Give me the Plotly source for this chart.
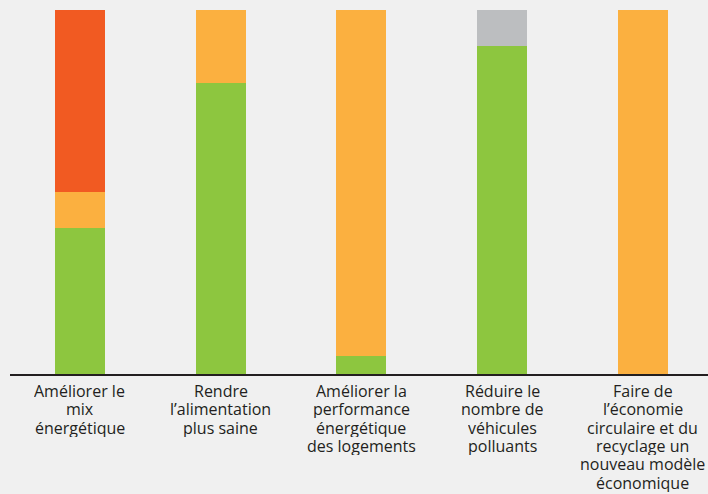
import plotly.graph_objects as go

# Categories (action areas) and their stacked shares, in percent
categories = [
    "Améliorer le<br>mix<br>énergétique",
    "Rendre<br>l’alimentation<br>plus saine",
    "Améliorer la<br>performance<br>énergétique<br>des logements",
    "Réduire le<br>nombre de<br>véhicules<br>polluants",
    "Faire de<br>l’économie<br>circulaire et du<br>recyclage un<br>nouveau modèle<br>économique",
]
green_values = [40, 80, 5, 90, 0]
orange_values = [10, 20, 95, 0, 100]
red_values = [50, 0, 0, 0, 0]
gray_values = [0, 0, 0, 10, 0]

series = [
    ("green", green_values, "#8dc63f"),
    ("orange", orange_values, "#fbb040"),
    ("red", red_values, "#f15a22"),
    ("gray", gray_values, "#bcbec0"),
]

positions = list(range(len(categories)))

fig = go.Figure()
for name, values, color in series:
    fig.add_trace(go.Bar(
        x=positions, y=values, name=name,
        marker=dict(color=color, line=dict(width=0)),
        width=0.355,
    ))

# Category labels: one annotation per line for a tight line spacing
LINE_STEP = 18.3
for pos, label in zip(positions, categories):
    for i, line in enumerate(label.split("<br>")):
        fig.add_annotation(
            x=pos, y=0, xref="x", yref="paper",
            text=line, showarrow=False,
            xanchor="center", yanchor="top",
            height=18, borderpad=0,
            yshift=-7 - LINE_STEP * i,
            font=dict(family="Open Sans", size=16, color="#231f20"),
            align="center",
        )

fig.update_layout(
    barmode="stack",
    width=708, height=494,
    margin=dict(l=10, r=0, t=10, b=120),
    paper_bgcolor="#f0f0f0",
    plot_bgcolor="#f0f0f0",
    showlegend=False,
    xaxis=dict(
        range=[-0.497, 4.462],
        showticklabels=False, showgrid=False, zeroline=False,
        showline=True, linecolor="#231f20", linewidth=2,
        ticks="",
    ),
    yaxis=dict(
        range=[0, 100], visible=False, showgrid=False, zeroline=False,
    ),
)

fig.write_html("out.html")
